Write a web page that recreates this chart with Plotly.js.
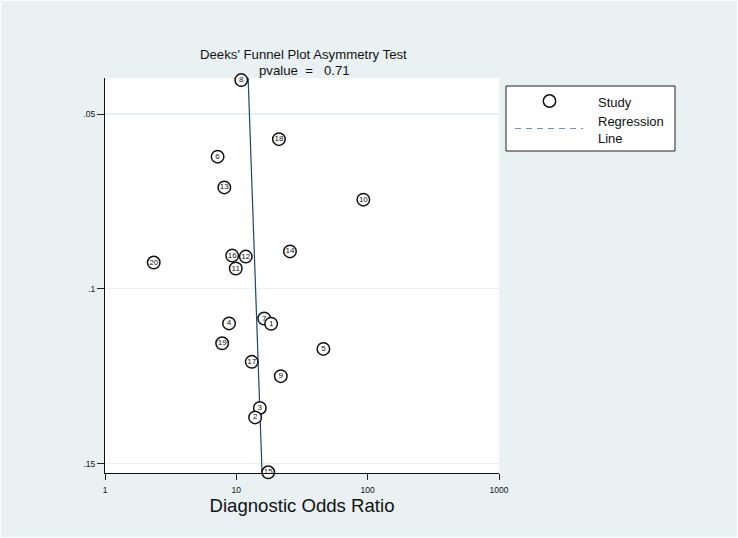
<!DOCTYPE html>
<html>
<head>
<meta charset="utf-8">
<script src="https://cdn.plot.ly/plotly-3.0.1.min.js"></script>
<style>
  html, body { margin: 0; padding: 0; background: #eaf1f3; }
  #chart { width: 738px; height: 538px; }
</style>
</head>
<body>
<div id="chart"></div>
<script>
// Study identifiers, diagnostic odds ratios and 1/sqrt(effective sample size)
const studyIds = ['8', '18', '6', '13', '10', '14', '20', '16', '12', '11',
                  '7', '1', '4', '19', '5', '17', '9', '3', '2', '15'];
const diagnosticOR = [10.9, 21.1, 7.2, 8.1, 92.7, 25.6, 2.35, 9.3, 11.8, 9.9,
                      16.3, 18.4, 8.8, 7.8, 46.0, 13.1, 21.8, 15.1, 13.9, 17.5];
const invRootESS = [0.0403, 0.0572, 0.0622, 0.0710, 0.0745, 0.0893, 0.0925, 0.0905, 0.0908, 0.0942,
                    0.1085, 0.1100, 0.1099, 0.1156, 0.1172, 0.1209, 0.1250, 0.1341, 0.1368, 0.1525];

// Fitted regression line (end points over the plotted range)
const regInvRootESS = [0.0397, 0.1527];
const regDOR = [12.3, 15.7];

// Axis ticks
const xTickVals = [1, 10, 100, 1000];
const xTickText = ['1', '10', '100', '1000'];
const yTickVals = [0.05, 0.1, 0.15];
const yTickText = ['.05', '.1', '.15'];

const pValue = '0.71';

const FONT = 'Liberation Sans, Arial, Helvetica, sans-serif';
const BG = '#eaf1f3';

// plot area in pixels
const W = 738, H = 538;
const M = { l: 105, r: 239, t: 78, b: 65 };
const PW = W - M.l - M.r, PH = H - M.t - M.b;
const px = x => (x - M.l) / PW;
const py = y => (H - M.b - y) / PH;

const traces = [
  {
    type: 'scatter',
    mode: 'lines',
    x: regDOR,
    y: regInvRootESS,
    line: { color: '#1a476f', width: 1.2 },
    hoverinfo: 'skip',
    showlegend: false
  },
  {
    type: 'scatter',
    mode: 'markers+text',
    x: diagnosticOR,
    y: invRootESS,
    text: studyIds,
    textposition: 'middle center',
    textfont: { family: FONT, size: 8, color: '#111' },
    marker: {
      symbol: 'circle',
      size: 12.5,
      color: '#ffffff',
      line: { color: '#111111', width: 1.5 }
    },
    cliponaxis: false,
    showlegend: false
  }
];

const layout = {
  width: W,
  height: H,
  margin: M,
  paper_bgcolor: BG,
  plot_bgcolor: '#ffffff',
  font: { family: FONT, color: '#111' },
  showlegend: false,
  xaxis: {
    type: 'log',
    range: [0, 3],
    tickvals: xTickVals,
    ticktext: xTickText,
    tickfont: { family: FONT, size: 8.5, color: '#111' },
    ticks: 'outside',
    ticklen: 6,
    tickcolor: '#222',
    tickwidth: 1,
    ticklabelstandoff: 3,
    showline: true,
    linecolor: '#111',
    linewidth: 1,
    showgrid: false,
    zeroline: false,
    title: {
      text: 'Diagnostic Odds Ratio',
      font: { family: FONT, size: 18.6, color: '#111' },
      standoff: 1
    }
  },
  yaxis: {
    range: [0.1527, 0.0397],
    tickvals: yTickVals,
    ticktext: yTickText,
    tickfont: { family: FONT, size: 8.5, color: '#111' },
    ticks: 'outside',
    ticklen: 7,
    tickcolor: '#222',
    tickwidth: 1,
    showline: true,
    linecolor: '#111',
    linewidth: 1,
    showgrid: true,
    gridcolor: '#e6eff1',
    gridwidth: 1.2,
    zeroline: false
  },
  annotations: [
    {
      xref: 'paper', yref: 'paper',
      x: px(303), y: py(55),
      xanchor: 'center', yanchor: 'middle',
      text: "Deeks' Funnel Plot Asymmetry Test",
      showarrow: false,
      borderpad: 0,
      font: { family: FONT, size: 13.2, color: '#111' }
    },
    {
      xref: 'paper', yref: 'paper',
      x: px(258), y: py(70.5),
      xanchor: 'left', yanchor: 'middle',
      text: 'pvalue\u00a0\u00a0=\u00a0\u00a0\u00a0' + pValue,
      showarrow: false,
      borderpad: 0,
      font: { family: FONT, size: 13.2, color: '#111' }
    },
    // legend labels
    {
      xref: 'paper', yref: 'paper',
      x: px(596), y: py(102),
      xanchor: 'left', yanchor: 'middle',
      text: 'Study',
      showarrow: false,
      font: { family: FONT, size: 13, color: '#111' }
    },
    {
      xref: 'paper', yref: 'paper',
      x: px(596), y: py(130),
      xanchor: 'left', yanchor: 'middle',
      align: 'left',
      text: 'Regression<br>Line',
      showarrow: false,
      font: { family: FONT, size: 13, color: '#111' }
    }
  ],
  shapes: [
    // legend box
    {
      type: 'rect', xref: 'paper', yref: 'paper',
      x0: px(506), x1: px(675), y0: py(151), y1: py(86),
      fillcolor: '#ffffff',
      line: { color: '#222', width: 1 }
    },
    // legend symbol: study marker
    {
      type: 'circle', xref: 'paper', yref: 'paper',
      x0: px(543.3), x1: px(555.7), y0: py(107.2), y1: py(94.8),
      fillcolor: '#ffffff',
      line: { color: '#111', width: 1.5 }
    },
    // legend symbol: regression line
    {
      type: 'line', xref: 'paper', yref: 'paper',
      x0: px(515), x1: px(583), y0: py(128.5), y1: py(128.5),
      line: { color: '#6d8fb8', width: 1.2, dash: '6px,5px' }
    },
    // thin outer frame
    {
      type: 'rect', xref: 'paper', yref: 'paper',
      x0: px(0), x1: px(W), y0: py(H), y1: py(0),
      line: { color: '#ffffff', width: 2 },
      layer: 'below'
    }
  ]
};

Plotly.newPlot('chart', traces, layout, { displayModeBar: false, staticPlot: true });
</script>
</body>
</html>
